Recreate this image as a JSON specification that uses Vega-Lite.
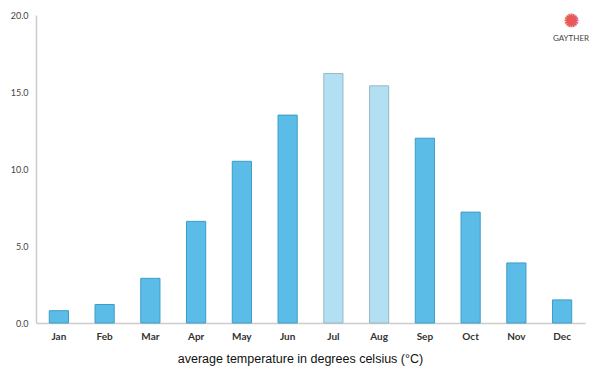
{
  "$schema": "https://vega.github.io/schema/vega-lite/v6.json",
  "autosize": "none",
  "width": 549,
  "height": 308,
  "padding": {"left": 36, "top": 15, "right": 15, "bottom": 52},
  "background": "white",
  "title": {
    "text": "✺",
    "subtitle": "GAYTHER",
    "orient": "top",
    "anchor": "end",
    "frame": "group",
    "dx": -14,
    "dy": 36,
    "fontSize": 18,
    "color": "#e8585a",
    "subtitleFontSize": 8,
    "subtitleColor": "#444444",
    "subtitleFont": "Lato",
    "subtitlePadding": 4,
    "align": "center"
  },
  "data": {
    "values": [
      {"month": "Jan", "temp": 0.8, "peak": "no"},
      {"month": "Feb", "temp": 1.2, "peak": "no"},
      {"month": "Mar", "temp": 2.9, "peak": "no"},
      {"month": "Apr", "temp": 6.6, "peak": "no"},
      {"month": "May", "temp": 10.5, "peak": "no"},
      {"month": "Jun", "temp": 13.5, "peak": "no"},
      {"month": "Jul", "temp": 16.2, "peak": "yes"},
      {"month": "Aug", "temp": 15.4, "peak": "yes"},
      {"month": "Sep", "temp": 12.0, "peak": "no"},
      {"month": "Oct", "temp": 7.2, "peak": "no"},
      {"month": "Nov", "temp": 3.9, "peak": "no"},
      {"month": "Dec", "temp": 1.5, "peak": "no"}
    ]
  },
  "mark": {"type": "bar", "strokeWidth": 1},
  "encoding": {
    "x": {
      "field": "month",
      "type": "nominal",
      "sort": null,
      "scale": {"paddingInner": 0.58, "paddingOuter": 0.29},
      "axis": {
        "title": "average temperature in degrees celsius (°C)",
        "titleFont": "Liberation Sans",
        "titleFontSize": 12.5,
        "titleFontWeight": "normal",
        "titleColor": "#111111",
        "titlePadding": 11,
        "titleX": 264,
        "labelAngle": 0,
        "labelFont": "Lato",
        "labelFontSize": 10,
        "labelFontWeight": "bold",
        "labelColor": "#333333",
        "labelPadding": 8,
        "ticks": false,
        "domainColor": "#cccccc",
        "domainWidth": 1.5
      }
    },
    "y": {
      "field": "temp",
      "type": "quantitative",
      "scale": {"domain": [0, 20], "nice": false},
      "axis": {
        "title": null,
        "values": [0, 5, 10, 15, 20],
        "format": ".1f",
        "grid": false,
        "ticks": false,
        "labelFont": "Lato",
        "labelFontSize": 9,
        "labelColor": "#444444",
        "labelPadding": 8,
        "domainColor": "#cccccc",
        "domainWidth": 1.5
      }
    },
    "color": {
      "field": "peak",
      "type": "nominal",
      "scale": {"domain": ["no", "yes"], "range": ["#5bbde7", "#b2dff2"]},
      "legend": null
    },
    "stroke": {
      "field": "peak",
      "type": "nominal",
      "scale": {"domain": ["no", "yes"], "range": ["#3d9dc9", "#9ab8c6"]},
      "legend": null
    }
  },
  "config": {"view": {"stroke": null}}
}
